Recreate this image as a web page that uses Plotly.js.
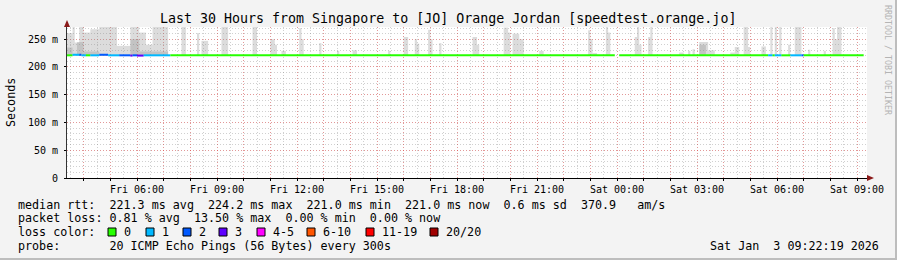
<!DOCTYPE html>
<html><head><meta charset="utf-8">
<script src="https://cdn.plot.ly/plotly-3.0.1.min.js"></script>
<style>html,body{margin:0;padding:0;background:#f3f3f3;}#chart{width:897px;height:260px;}</style>
</head><body><div id="chart"></div>
<script>
// ---- median RTT segments (start, end, median ms, loss level index) ----
const medStart = ["Fri 03:20","Fri 03:35","Fri 03:50","Fri 03:55","Fri 04:05","Fri 04:15","Fri 04:35","Fri 04:55","Fri 05:20","Fri 05:45","Fri 05:50","Fri 06:00","Fri 06:15","Fri 07:15","Sat 00:05","Sat 05:40","Sat 05:50","Sat 05:55","Sat 06:10","Sat 06:30","Sat 06:55","Sat 07:00"];
const medEnd   = ["Fri 03:35","Fri 03:50","Fri 03:55","Fri 04:05","Fri 04:15","Fri 04:35","Fri 04:55","Fri 05:20","Fri 05:45","Fri 05:50","Fri 06:00","Fri 06:15","Fri 07:15","Fri 23:55","Sat 05:40","Sat 05:50","Sat 05:55","Sat 06:10","Sat 06:30","Sat 06:55","Sat 07:00","Sat 09:15"];
const medValue = [221,222,222,221,221,221,222,221,221,220.5,221,220.5,221,221,221,221,221,221,221,221,221,221];
const medLoss  = [0,1,2,1,0,1,2,1,2,3,2,3,1,0,0,1,0,1,0,1,2,0];

// ---- smoke (ping spread) : light outer band ----
const smokeStart = ["Fri 03:20","Fri 03:35","Fri 03:40","Fri 03:50","Fri 04:00","Fri 04:15","Fri 04:35","Fri 05:15","Fri 05:45","Fri 06:05","Fri 06:20","Fri 06:35","Fri 07:40","Fri 08:15","Fri 08:25","Fri 09:10","Fri 10:20","Fri 11:00","Fri 11:10","Fri 11:25","Fri 12:05","Fri 12:10","Fri 12:50","Fri 13:30","Fri 14:05","Fri 15:25","Fri 16:00","Fri 16:25","Fri 16:30","Fri 16:55","Fri 17:00","Fri 17:20","Fri 18:35","Fri 18:45","Fri 19:45","Fri 19:55","Fri 20:05","Fri 20:15","Fri 20:20","Fri 21:05","Fri 22:55","Fri 23:00","Fri 23:05","Fri 23:35","Fri 23:40","Sat 00:40","Sat 00:45","Sat 00:50","Sat 01:10","Sat 01:15","Sat 02:20","Sat 02:40","Sat 02:50","Sat 03:05","Sat 03:25","Sat 04:15","Sat 04:25","Sat 04:45","Sat 04:55","Sat 05:25","Sat 05:45","Sat 05:55","Sat 06:05","Sat 06:25","Sat 06:40","Sat 07:10","Sat 07:45","Sat 08:05","Sat 08:10","Sat 08:15"];
const smokeEnd   = ["Fri 03:35","Fri 03:40","Fri 03:50","Fri 04:00","Fri 04:15","Fri 04:35","Fri 05:15","Fri 05:45","Fri 06:05","Fri 06:20","Fri 06:35","Fri 07:10","Fri 07:50","Fri 08:20","Fri 08:40","Fri 09:25","Fri 10:30","Fri 11:10","Fri 11:15","Fri 11:35","Fri 12:10","Fri 12:15","Fri 12:55","Fri 13:35","Fri 14:15","Fri 15:30","Fri 16:10","Fri 16:30","Fri 16:35","Fri 17:00","Fri 17:05","Fri 17:25","Fri 18:45","Fri 18:50","Fri 19:55","Fri 20:00","Fri 20:15","Fri 20:20","Fri 20:30","Fri 21:15","Fri 23:00","Fri 23:05","Fri 23:15","Fri 23:40","Fri 23:45","Sat 00:45","Sat 00:50","Sat 00:55","Sat 01:15","Sat 01:20","Sat 02:30","Sat 02:45","Sat 02:55","Sat 03:25","Sat 03:40","Sat 04:25","Sat 04:35","Sat 04:55","Sat 05:00","Sat 05:35","Sat 05:50","Sat 06:00","Sat 06:10","Sat 06:30","Sat 06:55","Sat 07:15","Sat 07:50","Sat 08:10","Sat 08:15","Sat 08:25"];
const smokeTop   = [261,272,244,272,262,268,272,238,272,262,240,272,272,261,247,272,272,250,240,229,270,250,243,229,230,229,254,250,242,267,250,243,254,240,271,262,260,260,250,229,266,250,225,272,262,254,272,240,254,272,226,229,232,245,230,226,236,272,236,237,272,272,272,240,272,231,229,270,250,272];

// ---- smoke : darker inner band ----
const darkStart = ["Fri 03:20","Fri 03:45","Fri 04:00","Fri 05:45","Fri 06:05","Sat 03:05"];
const darkEnd   = ["Fri 03:35","Fri 04:00","Fri 04:35","Fri 06:05","Fri 07:10","Sat 03:20"];
const darkTop   = [235,245,228,250,228,240];

// ---- axis labels ----
const xTickTimes  = ["Fri 06:00","Fri 09:00","Fri 12:00","Fri 15:00","Fri 18:00","Fri 21:00","Sat 00:00","Sat 03:00","Sat 06:00","Sat 09:00"];
const xTickLabels = ["Fri 06:00","Fri 09:00","Fri 12:00","Fri 15:00","Fri 18:00","Fri 21:00","Sat 00:00","Sat 03:00","Sat 06:00","Sat 09:00"];
const yTickVals   = [0,50,100,150,200,250];
const yTickLabels = ["0","50 m","100 m","150 m","200 m","250 m"];

// ---- legend ----
const lossLabels = ["0","1","2","3","4-5","6-10","11-19","20/20"];
const lossColors = ["#26ff00","#00b8ff","#0059ff","#5e00ff","#ff00ff","#ff5500","#ff0000","#a00000"];
const rttStats  = ["221.3","224.2","221.0","221.0","0.6","370.9"];
const lossStats = ["0.81","13.50","0.00","0.00"];

function t(s){ const [d,hm]=s.split(' '); const [h,m]=hm.split(':').map(Number); return Date.UTC(2026,0,d==='Fri'?2:3,h,m); }
const SMOKE_BASE = 220;

function barsFrom(starts, ends, tops, base, color){
  return {type:'bar', x:starts.map((s,i)=>(t(s)+t(ends[i]))/2), width:starts.map((s,i)=>t(ends[i])-t(s)),
    base:starts.map(()=>base), y:tops.map(v=>v-base), marker:{color:color,line:{width:0}}, hoverinfo:'skip', showlegend:false};
}
const traces = [
  barsFrom(smokeStart, smokeEnd, smokeTop, SMOKE_BASE, 'rgba(150,150,150,0.33)'),
  barsFrom(darkStart, darkEnd, darkTop, SMOKE_BASE, 'rgba(120,120,120,0.25)'),
  {type:'bar', x:medStart.map((s,i)=>(t(s)+t(medEnd[i]))/2), width:medStart.map((s,i)=>t(medEnd[i])-t(s)),
   base:medValue.map(v=>v-1.8), y:medValue.map(()=>3.6), marker:{color:medLoss.map(k=>lossColors[k]),line:{width:0}}, hoverinfo:'skip', showlegend:false}
];

// hourly grid ticks, labels every 3 hours
const hourVals=[], hourText=[];
for(let ms=Date.UTC(2026,0,2,4,0); ms<=Date.UTC(2026,0,3,9,0); ms+=3600000){
  hourVals.push(ms);
  const idx = xTickTimes.findIndex(s=>t(s)===ms);
  hourText.push(idx>=0 ? xTickLabels[idx] : '');
}

const L=67, T=27, PW=800, PH=151;
const px = x => (x-L)/PW, py = y => (T+PH-y)/PH;
const MONO = 'DejaVu Sans Mono';
const nb = s => s.replace(/ /g,'\u00a0');
const ann = (x,y,text,opt={}) => Object.assign({xref:'paper',yref:'paper',x:px(x),y:py(y),text:nb(text),showarrow:false,
  xanchor:'left',yanchor:'middle',font:{family:MONO,size:11.7,color:'#000'}},opt);

const annotations = [
  ann(448,19,'Last 30 Hours from Singapore to [JO] Orange Jordan [speedtest.orange.jo]',{xanchor:'center',font:{family:MONO,size:13.3,color:'#000'}}),
  ann(11,102,'Seconds',{xanchor:'center',textangle:-90}),
  ann(888,60,'RRDTOOL / TOBI OETIKER',{xanchor:'center',textangle:90,font:{family:MONO,size:8.3,color:'#b4b4b4'}}),
  ann(16,205,`median rtt:  ${rttStats[0]} ms avg  ${rttStats[1]} ms max  ${rttStats[2]} ms min  ${rttStats[3]} ms now  ${rttStats[4]} ms sd  ${rttStats[5]}   am/s`),
  ann(16,218,`packet loss: ${lossStats[0]} % avg  ${lossStats[1]} % max  ${lossStats[2]} % min  ${lossStats[3]} % now`),
  ann(16,232,'loss color:'),
  ann(16,246,'probe:       20 ICMP Echo Pings (56 Bytes) every 300s'),
  ann(881,246,'Sat Jan  3 09:22:19 2026',{xanchor:'right'})
];
const sqX = [108,146,183,219,257,307,366,430];
const shapes = [];
lossLabels.forEach((lab,i)=>{
  shapes.push({type:'rect',xref:'paper',yref:'paper',x0:px(sqX[i]),x1:px(sqX[i]+8),y0:py(236),y1:py(228),fillcolor:lossColors[i],line:{color:'#000',width:1}});
  annotations.push(ann(sqX[i]+14,232,lab));
});
// axis arrows
shapes.push({type:'path',xref:'paper',yref:'paper',path:`M ${px(64)} ${py(27)} L ${px(70)} ${py(27)} L ${px(67)} ${py(20)} Z`,fillcolor:'#8b1a1a',line:{width:0}});
shapes.push({type:'path',xref:'paper',yref:'paper',path:`M ${px(867)} ${py(175)} L ${px(867)} ${py(181)} L ${px(874)} ${py(178)} Z`,fillcolor:'#8b1a1a',line:{width:0}});
// frame edges
shapes.push({type:'line',xref:'paper',yref:'paper',x0:px(896),x1:px(896),y0:py(0),y1:py(260),line:{color:'#bdbdbd',width:2}});
shapes.push({type:'line',xref:'paper',yref:'paper',x0:px(0),x1:px(897),y0:py(259),y1:py(259),line:{color:'#bdbdbd',width:2}});

const layout = {
  width:897, height:260, margin:{l:L,r:897-L-PW,t:T,b:260-T-PH,pad:0},
  paper_bgcolor:'#f3f3f3', plot_bgcolor:'#ffffff', barmode:'overlay', showlegend:false,
  xaxis:{type:'date', range:[Date.UTC(2026,0,2,3,22,30), Date.UTC(2026,0,3,9,22,30)], tickmode:'array', tickvals:hourVals, ticktext:hourText,
    showgrid:true, gridcolor:'rgba(255,60,60,0.38)', griddash:'1px,2px', gridwidth:1,
    minor:{dtick:1800000, tick0:Date.UTC(2026,0,2,0,0), showgrid:true, gridcolor:'rgba(120,120,120,0.35)', griddash:'1px,2px', gridwidth:1, ticklen:0},
    ticks:'outside', ticklen:2, tickcolor:'#000', showline:true, linecolor:'#000', linewidth:1, zeroline:false,
    tickfont:{family:MONO,size:10,color:'#000'}, fixedrange:true, layer:'above traces'},
  yaxis:{range:[0,272], tickmode:'array', tickvals:yTickVals, ticktext:yTickLabels,
    showgrid:true, gridcolor:'rgba(255,60,60,0.38)', griddash:'1px,2px', gridwidth:1,
    minor:{dtick:10, tick0:0, showgrid:true, gridcolor:'rgba(120,120,120,0.35)', griddash:'1px,2px', gridwidth:1, ticklen:0},
    ticks:'outside', ticklen:2, tickcolor:'#000', showline:true, linecolor:'#333', linewidth:1, zeroline:false,
    tickfont:{family:MONO,size:10,color:'#000'}, ticklabelstandoff:4, fixedrange:true, layer:'above traces'},
  annotations:annotations, shapes:shapes
};
Plotly.newPlot('chart', traces, layout, {staticPlot:true, displayModeBar:false});
</script></body></html>
